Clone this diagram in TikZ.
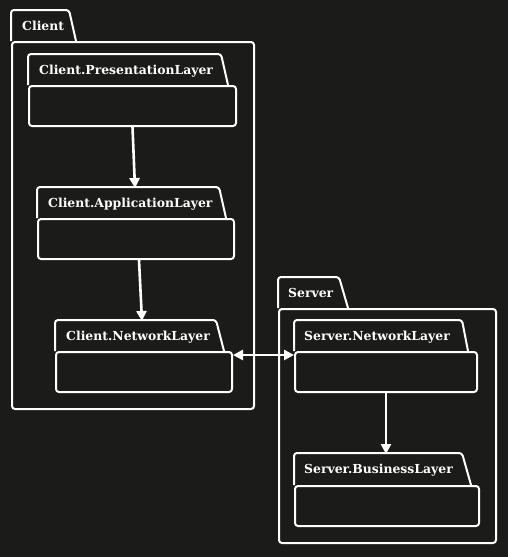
\documentclass[tikz,border=0pt]{standalone}
\usepackage{fontspec}
\setmainfont{DejaVu Serif}
\usetikzlibrary{arrows.meta}
\definecolor{bg}{RGB}{27,28,26}

\begin{document}
\begin{tikzpicture}[
        x=1pt, y=-1pt,
        body/.style={draw=white, line width=2pt, rounded corners=3pt,
                     inner sep=0pt},
        tab/.style={draw=white, line width=2pt, rounded corners=3pt},
        lbl/.style={text=white, font=\bfseries\fontsize{12.4}{14}\selectfont,
                    anchor=base west, inner sep=0pt},
        flow/.style={-{Triangle[length=10pt,width=10pt]}, draw=white, line width=2.6pt},
        both/.style={{Triangle[length=10pt,width=10pt]}-{Triangle[length=10pt,width=10pt]},
                     draw=white, line width=2.6pt}]

    \fill[bg] (0,0) rectangle (508,557);

    % --- Client
    \node[body, minimum width=242pt, minimum height=367pt] (client) at (133,225.5) {};
    \draw[tab] (client.north west) -- ++(0,-31) -- ++(58,0) -- ++(7,31);
    \node[lbl] (clientlbl) at (22,30) {Client};

    \node[body, minimum width=207pt, minimum height=40pt] (pres) at (132.5,106) {};
    \draw[tab] (pres.north west) -- ++(0,-31) -- ++(193,0) -- ++(7,31);
    \node[lbl] (preslbl) at (39,74) {Client.PresentationLayer};

    \node[body, minimum width=196pt, minimum height=40pt] (app) at (136,239) {};
    \draw[tab] (app.north west) -- ++(0,-31) -- ++(182,0) -- ++(7,31);
    \node[lbl] (applbl) at (48,207) {Client.ApplicationLayer};

    \node[body, minimum width=176pt, minimum height=40pt] (cnet) at (144,372) {};
    \draw[tab] (cnet.north west) -- ++(0,-31) -- ++(161,0) -- ++(8,31);
    \node[lbl] (cnetlbl) at (66,340) {Client.NetworkLayer};

    % --- Server
    \node[body, minimum width=217pt, minimum height=234pt] (server) at (387.5,426) {};
    \draw[tab] (server.north west) -- ++(0,-31) -- ++(61,0) -- ++(9,31);
    \node[lbl] (serverlbl) at (288,297) {Server};

    \node[body, minimum width=182pt, minimum height=40pt] (snet) at (386,372) {};
    \draw[tab] (snet.north west) -- ++(0,-31) -- ++(168,0) -- ++(6,31);
    \node[lbl] (snetlbl) at (304,340) {Server.NetworkLayer};

    \node[body, minimum width=184pt, minimum height=40pt] (bus) at (387,506) {};
    \draw[tab] (bus.north west) -- ++(0,-32) -- ++(168,0) -- ++(9,32);
    \node[lbl] (buslbl) at (304,473) {Server.BusinessLayer};

    % --- Pfeile
    \coordinate (apptop) at (135,188);
    \coordinate (cnettop) at (142,321);
    \coordinate (bustop) at (386,454);
    \draw[flow] (pres.south) -- (apptop);
    \draw[flow] ([xshift=3pt]app.south) -- (cnettop);
    \draw[flow] (snet.south) -- (bustop);
    \draw[both] ([yshift=-4pt]cnet.north east) -- ([yshift=-4pt]snet.north west);

\end{tikzpicture}
\end{document}
